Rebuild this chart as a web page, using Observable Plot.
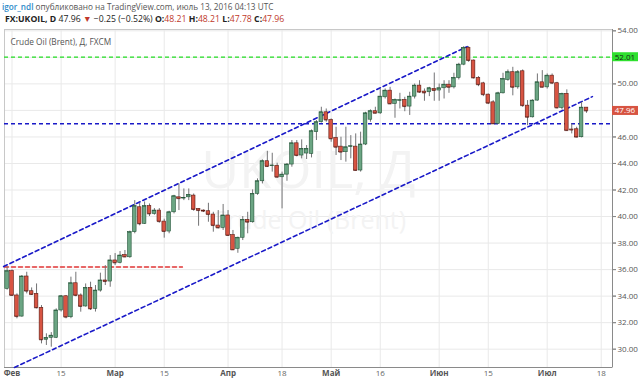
<!DOCTYPE html>
<html><head><meta charset="utf-8">
<script src="https://cdn.jsdelivr.net/npm/d3@7"></script>
<script src="https://cdn.jsdelivr.net/npm/@observablehq/plot@0.6"></script>
<style>
html,body{margin:0;padding:0;background:#fff;}
#wrap{position:relative;width:640px;height:384px;overflow:hidden;font-family:"Open Sans",sans-serif;}
#h1{position:absolute;left:2px;top:0px;font-size:8.2px;color:#555;white-space:nowrap;line-height:13px;}
#h1 b{color:#2e8bc9;font-weight:600;}
#h2{position:absolute;left:5px;top:13px;font-size:8.7px;color:#222;white-space:nowrap;line-height:13px;}
#h2 .r{color:#c0392b;}
#h2 b{font-weight:700;}
#chart{position:absolute;left:0;top:24px;}
</style></head>
<body><div id="wrap">
<div id="h1"><b>igor_ndl</b> опубликовано на TradingView.com, июль 13, 2016 04:13 UTC</div>
<div id="h2"><b>FX:UKOIL, D</b> 47.96 <span class="r">▼</span> −0.25 (−0.52%) <b>O:</b><span class="r">48.21</span> <b>H:</b><span class="r">48.21</span> <b>L:</b><span class="r">47.78</span> <b>C:</b><span class="r">47.96</span></div>
<div id="chart"></div>
</div>
<script>
// Daily candles, FX:UKOIL, 29 Jan 2016 (index 0) .. 13 Jul 2016 (index 118)
const opens = [34.55,35.88,34.05,32.46,35.48,34.37,34.17,33.12,30.71,30.85,30.86,32.92,33.99,32.41,34.97,34.05,33.22,34.62,33.04,34.42,
35.18,35.10,36.69,36.51,37.10,36.93,38.82,40.70,39.45,40.78,40.20,40.45,39.62,38.87,40.32,41.45,41.37,41.45,41.58,40.58,
40.45,40.40,40.15,39.32,39.15,40.08,38.60,37.57,38.40,39.75,39.57,41.71,42.66,44.17,43.82,43.82,42.96,43.16,43.92,45.52,
44.60,44.75,44.72,46.36,47.11,47.86,47.28,45.93,45.27,44.85,45.27,45.27,43.47,45.43,47.30,47.94,47.78,48.99,49.49,48.49,
48.74,48.79,48.29,49.04,49.87,49.42,49.37,49.62,49.50,49.67,49.94,49.74,50.45,51.45,52.71,51.76,50.45,50.04,49.19,48.61,
46.99,49.29,50.30,50.88,49.74,50.95,48.36,47.48,48.74,50.12,49.74,50.62,50.05,48.19,49.25,46.56,46.58,45.98,48.21];
const highs = [36.20,35.98,34.17,35.55,35.80,34.62,34.92,33.29,31.16,31.25,33.04,34.05,34.05,35.43,35.80,34.17,34.92,35.05,34.80,35.73,
36.30,37.06,37.21,37.36,37.44,38.90,41.20,41.00,41.10,40.95,40.60,40.60,39.80,40.40,41.60,42.46,42.08,42.08,41.70,40.60,
40.50,41.00,40.32,40.45,40.91,40.45,38.95,38.45,40.00,40.32,42.01,42.84,44.27,44.92,44.77,44.02,43.35,44.00,45.73,45.73,
45.78,45.35,46.53,47.24,48.24,48.11,47.36,46.73,45.98,46.73,46.10,46.23,46.36,47.86,48.04,48.24,49.62,49.62,49.74,48.86,
49.29,48.99,49.37,49.99,50.24,49.62,49.74,50.82,49.99,50.24,50.24,50.80,51.55,52.81,52.81,51.80,50.55,50.12,49.24,48.74,
49.37,50.80,51.05,51.25,51.00,51.05,48.74,48.80,50.75,51.00,50.75,50.75,50.12,49.30,49.55,46.99,46.73,48.61,48.21];
const lows = [34.45,33.99,32.29,32.41,34.17,34.05,33.04,30.40,30.28,30.15,30.80,32.80,32.29,32.30,33.95,32.79,33.17,32.92,32.80,34.30,
34.80,34.67,36.31,36.43,36.90,36.85,38.70,39.30,39.40,40.00,40.10,39.50,38.37,38.70,40.20,40.45,41.20,41.20,40.40,39.27,
40.30,39.57,38.82,39.07,38.95,38.50,37.44,37.23,38.19,38.70,39.50,41.60,42.46,43.70,43.35,42.90,40.58,42.66,43.72,44.50,
44.35,44.30,44.42,45.73,47.05,47.11,45.60,44.60,44.22,44.10,44.35,43.42,43.35,45.35,47.11,47.74,47.70,48.86,48.44,47.41,
48.11,47.90,47.62,48.86,49.29,48.69,49.04,48.69,48.69,48.86,49.29,49.62,50.30,51.37,51.63,50.37,49.79,49.04,48.44,46.94,
46.94,49.24,50.20,49.10,49.60,48.24,46.85,47.43,48.70,49.70,49.61,49.95,48.11,48.04,46.43,46.23,45.93,45.93,47.78];
const closes = [35.88,34.05,32.46,35.48,34.37,34.12,33.12,30.71,30.85,31.02,32.92,33.99,32.41,34.97,34.05,33.22,34.62,33.04,34.42,35.18,
35.10,36.69,36.51,37.06,36.95,38.82,40.78,39.45,40.78,40.20,40.45,39.62,38.87,40.32,41.53,41.35,41.40,41.63,40.53,40.45,
40.40,40.15,39.32,39.15,40.08,38.57,37.49,38.40,39.75,39.57,41.71,42.66,44.17,43.77,43.85,42.96,43.16,43.92,45.52,44.60,
45.10,45.10,46.43,47.11,47.86,47.28,45.86,45.22,44.85,45.22,45.30,43.47,45.43,47.78,47.94,47.78,49.04,49.49,48.49,48.79,
48.77,48.29,49.04,49.87,49.37,49.32,49.67,49.50,49.67,49.94,49.74,50.45,51.45,52.71,51.76,50.45,49.94,49.19,48.54,46.99,
49.29,50.37,50.88,49.74,50.88,48.36,47.48,48.74,50.12,49.74,50.62,50.05,48.19,49.25,46.48,46.52,45.98,48.21,47.96];

// x-axis: trading-day index of each labelled date
const monthTicks = [1, 22, 45, 66, 88, 110];
const monthLabels = ["Фев", "Мар", "Апр", "Май", "Июн", "Июл"];
const dayTicks = [11, 32, 56, 76, 98, 121];
const dayLabels = ["15", "15", "18", "16", "15", "18"];
const yTicks = [30, 32, 34, 36, 38, 40, 42, 44, 46, 48, 50, 52, 54];
const xDomain = [-0.53, 123.3];
const yDomain = [28.62, 54.1];

// drawn trend lines (index, price)
const channelUpper = [[-0.7, 36.23], [93.7, 52.81]];
const channelLower = [[1.5, 28.62], [119.2, 49.04]];
const supportLevel = 47.0;
const resistanceLevel = 52.01;
const redLevel = [[-0.53, 36.2], [35.7, 36.2]];
const lastPrice = 47.96;

const candles = opens.map((o, i) => ({i, o, h: highs[i], l: lows[i], c: closes[i], up: closes[i] >= o}));
const upFill = "#6ba583", dnFill = "#d75442", upLine = "#225437", dnLine = "#5b1a13", wick = "#737375";
const toPts = a => a.map(([i, p]) => ({i, p}));

// tick labels hidden under the price labels (as on the reference)
const labelledY = yTicks.filter(v => Math.abs(v - resistanceLevel) > 0.5 && Math.abs(v - lastPrice) > 0.5);
const allX = monthTicks.concat(dayTicks);
const chart = Plot.plot({
  width: 640, height: 360,
  marginLeft: 4, marginRight: 28, marginTop: 5, marginBottom: 17,
  x: {domain: xDomain, axis: null, label: null},
  y: {domain: yDomain, axis: null, label: null},
  style: {fontFamily: "Open Sans, sans-serif", background: "transparent"},
  marks: [
    Plot.gridX(allX, {stroke: "#e9e9e9", strokeOpacity: 1}),
    Plot.gridY(yTicks, {stroke: "#e9e9e9", strokeOpacity: 1}),
    Plot.text(["UKOIL, Д"], {frameAnchor: "middle", dy: -27, fontSize: 52, fill: "#f3f3f3"}),
    Plot.text(["Crude Oil (Brent)"], {frameAnchor: "middle", dy: 22, fontSize: 25, fill: "#f3f3f3"}),
    Plot.frame({stroke: "#c8c8c8"}),
    Plot.ruleY([yDomain[0]], {stroke: "#8a8a8a"}),
    Plot.ruleX([xDomain[1]], {stroke: "#8a8a8a"}),
    Plot.axisX(monthTicks, {tickSize: 0, tickPadding: 3, fontSize: 8, fontWeight: "bold", fill: "#555", label: null,
      tickFormat: d => monthLabels[monthTicks.indexOf(d)]}),
    Plot.axisX(dayTicks, {tickSize: 0, tickPadding: 3, fontSize: 8, fill: "#666", label: null,
      tickFormat: d => dayLabels[dayTicks.indexOf(d)]}),
    Plot.axisY(yTicks, {anchor: "right", tickSize: 3, stroke: "#8a8a8a", tickFormat: null, text: null, label: null}),
    Plot.axisY(labelledY, {anchor: "right", tickSize: 3, tickPadding: 2, fontSize: 8, fill: "#555", stroke: "#8a8a8a", label: null,
      tickFormat: d => d.toFixed(2)}),
    Plot.text(["Crude Oil (Brent), Д, FXCM"], {frameAnchor: "top-left", dx: 6, dy: 10, textAnchor: "start", fontSize: 8.3, fill: "#555"}),
    // levels
    Plot.ruleY([resistanceLevel], {stroke: "#22dd22", strokeWidth: 1.2, strokeDasharray: "4,3"}),
    Plot.ruleY([supportLevel], {stroke: "#1a1ac8", strokeWidth: 1.6, strokeDasharray: "4,3"}),
    Plot.line(toPts(redLevel), {x: "i", y: "p", stroke: "#e03434", strokeWidth: 1.6, strokeDasharray: "4,3"}),
    Plot.line(toPts(channelUpper), {x: "i", y: "p", stroke: "#1a1ac8", strokeWidth: 1.6, strokeDasharray: "4,3"}),
    Plot.line(toPts(channelLower), {x: "i", y: "p", stroke: "#1a1ac8", strokeWidth: 1.6, strokeDasharray: "4,3"}),
    // candles
    Plot.ruleX(candles, {x: "i", y1: "l", y2: "h", stroke: wick, strokeWidth: 1}),
    Plot.rect(candles, {x1: d => d.i - 0.37, x2: d => d.i + 0.37, y1: "o", y2: "c",
      fill: d => d.up ? upFill : dnFill, stroke: d => d.up ? upLine : dnLine, strokeWidth: 0.6}),
    Plot.ruleY(candles, {y: "c", x1: d => d.i - 0.37, x2: d => d.i + 0.37, stroke: d => d.up ? upLine : dnLine, strokeWidth: 0.7})
  ]
});
document.getElementById("chart").appendChild(chart);

// price labels on the right scale
const ys = chart.scale("y"), xs = chart.scale("x");
const svg = d3.select(chart);
const xr = xs.apply(xDomain[1]);
[[resistanceLevel, "#2fe02f", "#1a1a1a"], [lastPrice, "#d75442", "#ffffff"]].forEach(([v, bg, fg]) => {
  const yy = ys.apply(v);
  svg.append("rect").attr("x", xr).attr("y", yy - 4.5).attr("width", 26).attr("height", 9).attr("fill", bg);
  svg.append("text").attr("x", xr + 13).attr("y", yy).attr("dy", "0.35em").attr("text-anchor", "middle")
    .attr("font-size", 8).attr("font-family", "Open Sans, sans-serif").attr("fill", fg).text(v.toFixed(2));
});
</script>
</body></html>
